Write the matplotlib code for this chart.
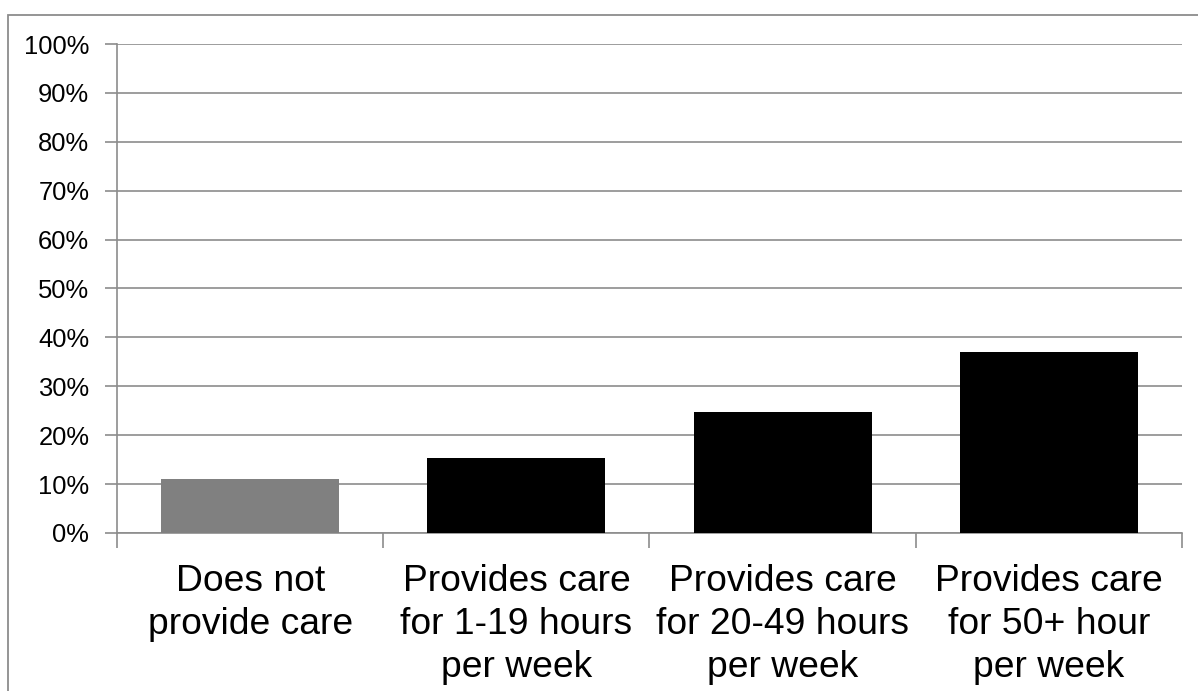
import matplotlib.pyplot as plt
from matplotlib.patches import Rectangle
from matplotlib.ticker import PercentFormatter

# 介護時間ごとの割合
categories = [
    "Does not\nprovide care",
    "Provides care\nfor 1-19 hours\nper week",
    "Provides care\nfor 20-49 hours\nper week",
    "Provides care\nfor 50+ hour\nper week",
]
values = [11.1, 15.4, 24.8, 37.1]

bar_colors = ["#808080", "#000000", "#000000", "#000000"]
line_gray = "#8c8c8c"

plt.rcParams['font.family'] = ['Liberation Sans', 'DejaVu Sans']

fig = plt.figure(figsize=(11.98, 6.91), dpi=100)
ax = fig.add_axes([0.0977, 0.2287, 0.8889, 0.7076])

# 外枠（上と左だけ見える）
fig.patches.append(Rectangle((8 / 1198, -0.2), 1.2, 1.2 - 15 / 691,
                             transform=fig.transFigure, fill=False,
                             edgecolor=line_gray, linewidth=1.3))

x = range(len(categories))
ax.bar(x, values, width=0.668, color=bar_colors, zorder=3)

ax.set_xlim(-0.5, len(categories) - 0.5)
ax.set_ylim(0, 100)
ax.set_yticks(range(0, 101, 10))
ax.yaxis.set_major_formatter(PercentFormatter(decimals=0))

# カテゴリ境界に目盛を置く
ax.set_xticks([i - 0.5 for i in range(len(categories) + 1)], minor=False)
ax.set_xticklabels([])
ax.set_xticks(list(x), minor=True)
ax.set_xticklabels(categories, minor=True, fontsize=26.8, linespacing=1.3)
ax.tick_params(axis='x', which='minor', length=0, pad=22)
ax.tick_params(axis='x', which='major', length=11, width=1.2, color=line_gray)
ax.tick_params(axis='y', length=9, width=1.2, color=line_gray, labelsize=18.4, pad=11)

ax.grid(axis='y', color=line_gray, linewidth=1.2, zorder=0)
for side in ['top', 'right']:
    ax.spines[side].set_visible(False)
for side in ['left', 'bottom']:
    ax.spines[side].set_color(line_gray)
    ax.spines[side].set_linewidth(1.2)

fig.savefig("out.png", dpi=100)
